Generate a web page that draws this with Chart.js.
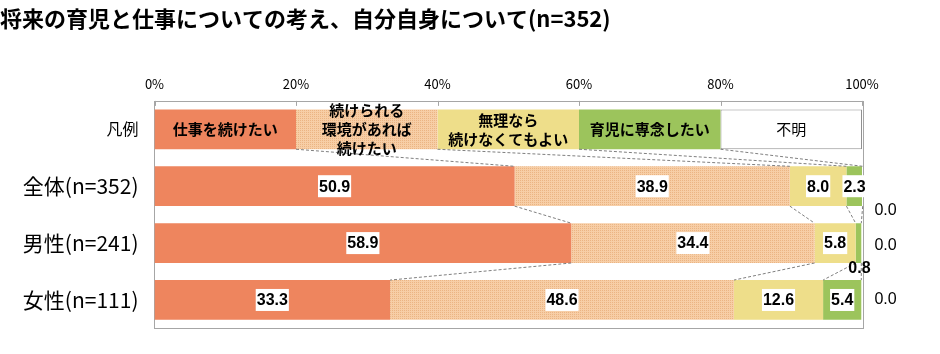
<!DOCTYPE html>
<html>
<head>
<meta charset="utf-8">
<script src="https://cdn.jsdelivr.net/npm/chart.js@4.4.1/dist/chart.umd.min.js"></script>
<style>
  html, body { margin: 0; padding: 0; background: #fff; }
  #wrap { width: 940px; height: 354px; }
</style>
</head>
<body>
<div id="wrap"><canvas id="chart" width="940" height="354"></canvas></div>
<script>
// =========================
// DATA
// =========================
const title = "将来の育児と仕事についての考え、自分自身について(n=352)";
const legendRowLabel = "凡例";
const rows = ["全体(n=352)", "男性(n=241)", "女性(n=111)"];
const answers = [
  ["仕事を続けたい"],
  ["続けられる", "環境があれば", "続けたい"],
  ["無理なら", "続けなくてもよい"],
  ["育児に専念したい"],
  ["不明"]
];
const keepWorking = [50.9, 58.9, 33.3];
const ifPossible = [38.9, 34.4, 48.6];
const noNeed = [8.0, 5.8, 12.6];
const focusChildcare = [2.3, 0.8, 5.4];
const unknown = [0.0, 0.0, 0.0];
const legendWidth = 20; // each legend box spans 20%
const xTicks = [0, 20, 40, 60, 80, 100];

const series = [keepWorking, ifPossible, noNeed, focusChildcare, unknown];

// =========================
// STYLES
// =========================
const JP = '"Noto Sans CJK JP", "Noto Sans", sans-serif';
const NUM = '"Liberation Sans", Arial, sans-serif';

// dotted peach fill like the original
const peach = (function () {
  const c = document.createElement("canvas");
  c.width = 4; c.height = 4;
  const g = c.getContext("2d");
  g.fillStyle = "#F7CEA6"; g.fillRect(0, 0, 4, 4);
  g.fillStyle = "#EBB483";
  [[0, 0], [2, 0], [0, 2], [2, 2]].forEach(p => g.fillRect(p[0], p[1], 1, 1));
  return document.getElementById("chart").getContext("2d").createPattern(c, "repeat");
})();

const colors = ["#EE855E", peach, "#EEDE8A", "#9CC45C", "#FFFFFF"];

// manual label nudges [dx, dy] keyed "dataset-row"
const labelNudge = {
  "3-2": [1, 24.5],
  "4-1": [0, 24.5],
  "4-2": [0, 3]
};

// =========================
// PLUGINS
// =========================
const frame = {
  id: "frame",
  beforeDatasetsDraw(chart) {
    const { ctx, chartArea: a, scales } = chart;
    ctx.save();
    ctx.strokeStyle = "#A6A6A6";
    ctx.lineWidth = 1;
    ctx.strokeRect(Math.round(a.left) - 0.5, Math.round(a.top) + 0.5,
      Math.round(a.right - a.left) + 1, Math.round(a.bottom - a.top));
    xTicks.forEach(t => {
      const x = Math.round(scales.x.getPixelForValue(t)) + 0.5;
      ctx.beginPath();
      ctx.moveTo(x, a.top);
      ctx.lineTo(x, a.top + 5);
      ctx.stroke();
    });
    ctx.restore();
  }
};

const seriesLines = {
  id: "seriesLines",
  afterDatasetsDraw(chart) {
    const { ctx } = chart;
    ctx.save();
    ctx.strokeStyle = "#7F7F7F";
    ctx.lineWidth = 1;
    ctx.setLineDash([3, 2]);
    for (let k = 0; k < 4; k++) {
      const meta = chart.getDatasetMeta(k);
      for (let r = 0; r < 3; r++) {
        const a = meta.data[r].getProps(["x", "y", "height"], true);
        const b = meta.data[r + 1].getProps(["x", "y", "height"], true);
        ctx.beginPath();
        ctx.moveTo(a.x, a.y + a.height / 2);
        ctx.lineTo(b.x, b.y - b.height / 2);
        ctx.stroke();
      }
    }
    ctx.restore();
  }
};

const barLabels = {
  id: "barLabels",
  afterDatasetsDraw(chart) {
    const { ctx, chartArea } = chart;
    ctx.save();
    ctx.textAlign = "center";
    ctx.textBaseline = "middle";
    chart.data.datasets.forEach((ds, k) => {
      const meta = chart.getDatasetMeta(k);
      meta.data.forEach((el, i) => {
        const p = el.getProps(["x", "y", "base"], true);
        const cx = (p.x + p.base) / 2;
        if (i === 0) {
          // legend row: answer names
          const lines = answers[k];
          ctx.fillStyle = "#000";
          ctx.font = (k === 4 ? "normal " : "bold ") + "15px " + JP;
          const lh = 19;
          lines.forEach((ln, j) => {
            ctx.fillText(ln, cx, p.y + (j - (lines.length - 1) / 2) * lh);
          });
          return;
        }
        const v = ds.data[i];
        const nudge = labelNudge[k + "-" + i] || [0, 0];
        const txt = v.toFixed(1);
        if (v === 0) {
          ctx.font = "16px " + NUM;
          ctx.fillStyle = "#000";
          ctx.fillText(txt, chartArea.right + 23.5 + nudge[0], p.y + nudge[1]);
          return;
        }
        ctx.font = "bold 16px " + NUM;
        const tx = cx + nudge[0];
        const ty = p.y + nudge[1];
        if (!labelNudge[k + "-" + i]) {
          const w = ctx.measureText(txt).width;
          ctx.fillStyle = "#FFFFFF";
          ctx.fillRect(tx - w / 2 - 1, ty - 11, w + 2, 22);
        }
        ctx.fillStyle = "#000";
        ctx.fillText(txt, tx, ty + 1);
      });
    });
    ctx.restore();
  }
};

// =========================
// CHART
// =========================
const datasets = series.map((vals, k) => ({
  label: answers[k].join(""),
  data: [legendWidth, ...vals],
  backgroundColor: colors[k],
  borderColor: "#909090",
  borderWidth: ctx => (k === 4 && ctx.dataIndex === 0 ? 1 : 0),
  borderSkipped: false,
  barPercentage: 0.7,
  categoryPercentage: 1.0
}));

new Chart(document.getElementById("chart"), {
  type: "bar",
  data: {
    labels: [legendRowLabel, ...rows],
    datasets: datasets
  },
  options: {
    indexAxis: "y",
    responsive: false,
    animation: false,
    devicePixelRatio: 1,
    layout: { padding: { left: 0, right: 78, top: 0, bottom: 23 } },
    plugins: {
      legend: { display: false },
      tooltip: { enabled: false },
      title: {
        display: true,
        text: title,
        align: "start",
        color: "#000",
        font: { family: JP, size: 22, weight: "bold" },
        padding: { top: 5, bottom: 0 }
      }
    },
    scales: {
      x: {
        position: "top",
        stacked: true,
        min: 0,
        max: 100,
        afterFit: s => { s.height = 69.5; },
        afterBuildTicks: s => { s.ticks = xTicks.map(v => ({ value: v })); },
        grid: { display: false, drawTicks: false },
        border: { display: false },
        ticks: {
          padding: 9,
          color: "#000",
          font: { family: JP, size: 13 },
          callback: v => v + "%"
        }
      },
      y: {
        stacked: true,
        afterFit: s => { s.width = 154.5; },
        grid: { display: false, drawTicks: false },
        border: { display: false },
        ticks: {
          padding: 16,
          color: "#000",
          font: ctx => ctx.index === 0
            ? { family: JP, size: 16 }
            : { family: JP, size: 21 }
        }
      }
    }
  },
  plugins: [frame, seriesLines, barLabels]
});
</script>
</body>
</html>
